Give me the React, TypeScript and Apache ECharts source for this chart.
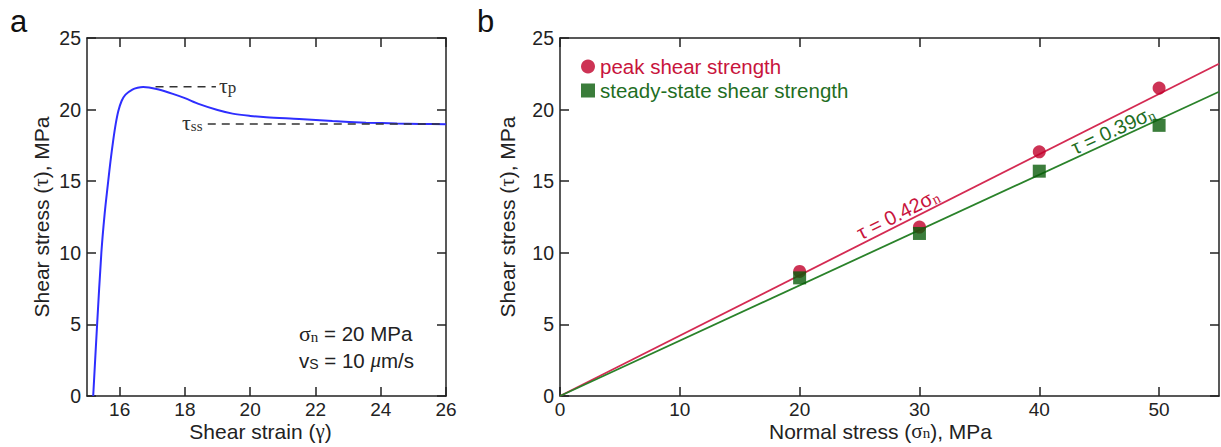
import React, { useEffect, useRef } from 'react';
import * as echarts from 'echarts';

// ---------- Panel a: shear stress vs shear strain ----------
const strainA = [15.19, 15.31, 15.44, 15.54, 15.65, 15.72, 15.8, 15.88, 15.96, 16.06, 16.18, 16.39, 16.55, 16.72, 16.9, 17.2, 17.63, 18.0, 18.44, 19.0, 19.46, 20.0, 20.49, 21.5, 22.52, 23.55, 24.5, 25.2, 26.0];
const stressA = [0, 5.0, 10.0, 12.7, 15.0, 16.4, 17.8, 19.0, 19.9, 20.6, 21.05, 21.4, 21.52, 21.57, 21.54, 21.4, 21.1, 20.8, 20.38, 19.97, 19.72, 19.56, 19.46, 19.34, 19.2, 19.09, 19.03, 19.0, 18.98];
const tauPeakDash = [[17.1, 21.6], [18.95, 21.6]];
const tauSSDash = [[18.7, 19.0], [26, 19.0]];
const xTicksA = [16, 18, 20, 22, 24, 26];
const yTicks = [0, 5, 10, 15, 20, 25];

// ---------- Panel b: shear strength vs normal stress ----------
const normalStress = [20, 30, 40, 50];
const peakStrength = [8.7, 11.8, 17.05, 21.5];
const steadyStrength = [8.25, 11.35, 15.7, 18.9];
const peakFit = [[0, 0], [55, 23.2]];
const steadyFit = [[0, 0], [55, 21.25]];
const xTicksB = [0, 10, 20, 30, 40, 50];

const AX = '#222';
const FONT = 'Liberation Sans, Arial, sans-serif';
const SERIF = 'Liberation Serif, Times New Roman, serif';
const RED = '#c8143c';
const REDLINE = '#d42a52';
const GREEN = '#1f6e1f';
const GREENLINE = '#2a822a';

function xAxisDef(gridIndex: number, min: number, max: number, ticks: number[], position: string, labels: boolean, extra: any = {}) {
  return {
    type: 'value', gridIndex, min, max, position,
    axisLine: { show: true, onZero: false, lineStyle: { color: AX, width: 1.5 } },
    axisTick: { show: true, inside: true, length: 9, customValues: ticks, lineStyle: { color: AX, width: 1.5 } },
    axisLabel: { show: labels, customValues: ticks, color: AX, fontSize: 19, lineHeight: 14, fontFamily: FONT, margin: 6.5, showMinLabel: true, showMaxLabel: true },
    splitLine: { show: false },
    ...extra,
  };
}
function yAxisDef(gridIndex: number, position: string, labels: boolean, extra: any = {}) {
  return {
    type: 'value', gridIndex, min: 0, max: 25, position,
    axisLine: { show: true, onZero: false, lineStyle: { color: AX, width: 1.5 } },
    axisTick: { show: true, inside: true, length: 9, customValues: yTicks, lineStyle: { color: AX, width: 1.5 } },
    axisLabel: { show: labels, customValues: yTicks, color: AX, fontSize: 19.5, fontFamily: FONT, margin: 6, showMinLabel: true, showMaxLabel: true },
    splitLine: { show: false },
    ...extra,
  };
}

const subRich = {
  a: { fontSize: 21, fontFamily: FONT, color: AX, lineHeight: 18 },
  s: { fontSize: 15, fontFamily: SERIF, color: AX, lineHeight: 9, verticalAlign: 'bottom' },
  g: { fontSize: 21, fontFamily: SERIF, color: AX, lineHeight: 18 },
};

export default function App() {
  const ref = useRef<HTMLDivElement>(null);
  useEffect(() => {
    if (!ref.current) return;
    const chart = echarts.init(ref.current, undefined, { renderer: 'svg' });
    const deg = Math.PI / 180;
    const option: any = {
      animation: false,
      backgroundColor: '#fff',
      grid: [
        { left: 87, top: 38, width: 359, height: 358, outerBoundsMode: 'none', containLabel: false },
        { left: 560, top: 38, width: 659, height: 358, outerBoundsMode: 'none', containLabel: false },
      ],
      xAxis: [
        xAxisDef(0, 15, 26, xTicksA, 'bottom', true, {
          name: '{a|Shear strain (}{g|γ}{a|)}', nameLocation: 'middle', nameGap: 26, nameMoveOverlap: false,
          nameTextStyle: { rich: subRich, padding: [0, 12, 0, 0] },
        }),
        xAxisDef(0, 15, 26, xTicksA, 'top', false),
        xAxisDef(1, 0, 55, xTicksB, 'bottom', true, {
          name: '{a|Normal stress (}{g|σ}{s|n}{a|), MPa}', nameLocation: 'middle', nameGap: 26, nameMoveOverlap: false,
          nameTextStyle: { rich: subRich, padding: [0, 18, 0, 0] },
        }),
        xAxisDef(1, 0, 55, xTicksB, 'top', false),
      ],
      yAxis: [
        yAxisDef(0, 'left', true, {
          name: '{a|Shear stress (}{g|τ}{a|), MPa}', nameLocation: 'middle', nameGap: 37, nameMoveOverlap: false,
          nameTextStyle: { rich: subRich },
        }),
        yAxisDef(0, 'right', false),
        yAxisDef(1, 'left', true, {
          name: '{a|Shear stress (}{g|τ}{a|), MPa}', nameLocation: 'middle', nameGap: 44, nameMoveOverlap: false,
          nameTextStyle: { rich: subRich },
        }),
        yAxisDef(1, 'right', false),
      ],
      legend: {
        left: 576, top: 51, orient: 'vertical', itemWidth: 14, itemHeight: 14, itemGap: 3,
        selectedMode: false,
        textStyle: { fontSize: 20.5, fontFamily: FONT },
        data: [
          { name: 'peak shear strength', textStyle: { color: RED } },
          { name: 'steady-state shear strength', textStyle: { color: GREEN } },
        ],
      },
      series: [
        {
          name: 'curve', type: 'line', xAxisIndex: 0, yAxisIndex: 0,
          data: strainA.map((x, i) => [x, stressA[i]]),
          showSymbol: false, symbol: 'none', smooth: 0.3,
          lineStyle: { color: '#2e2eff', width: 2 },
        },
        {
          name: 'tau_p', type: 'line', xAxisIndex: 0, yAxisIndex: 0, data: tauPeakDash, symbol: 'none',
          lineStyle: { color: '#333', width: 1.5, type: [8, 6] },
        },
        {
          name: 'tau_ss', type: 'line', xAxisIndex: 0, yAxisIndex: 0, data: tauSSDash, symbol: 'none',
          lineStyle: { color: '#333', width: 1.5, type: [8, 6] },
        },
        {
          name: 'peak fit', type: 'line', xAxisIndex: 2, yAxisIndex: 2, data: peakFit, symbol: 'none',
          lineStyle: { color: REDLINE, width: 1.8 },
        },
        {
          name: 'steady fit', type: 'line', xAxisIndex: 2, yAxisIndex: 2, data: steadyFit, symbol: 'none',
          lineStyle: { color: GREENLINE, width: 1.8 },
        },
        {
          name: 'peak shear strength', type: 'scatter', xAxisIndex: 2, yAxisIndex: 2, z: 5,
          data: normalStress.map((x, i) => [x, peakStrength[i]]),
          symbol: 'circle', symbolSize: 13, itemStyle: { color: '#c0002a' },
        },
        {
          name: 'steady-state shear strength', type: 'scatter', xAxisIndex: 2, yAxisIndex: 2, z: 5,
          data: normalStress.map((x, i) => [x, steadyStrength[i]]),
          symbol: 'rect', symbolSize: 13, itemStyle: { color: '#0a5c0a' },
        },
      ],
      graphic: [
        { type: 'text', x: 10, y: 6, style: { text: 'a', fontSize: 31, fontFamily: FONT, fill: '#111' } },
        { type: 'text', x: 477, y: 6, style: { text: 'b', fontSize: 31, fontFamily: FONT, fill: '#111' } },
        {
          type: 'text', x: 219, y: 85,
          style: {
            text: '{t|τ}{s|p}', verticalAlign: 'middle',
            rich: {
              t: { fontSize: 22, fontFamily: SERIF, fill: '#333', lineHeight: 22 },
              s: { fontSize: 17, fontFamily: SERIF, fill: '#333', lineHeight: 10, verticalAlign: 'bottom' },
            },
          },
        },
        {
          type: 'text', x: 182, y: 122,
          style: {
            text: '{t|τ}{s|ss}', verticalAlign: 'middle',
            rich: {
              t: { fontSize: 22, fontFamily: SERIF, fill: '#333', lineHeight: 22 },
              s: { fontSize: 15, fontFamily: SERIF, fill: '#333', lineHeight: 10, verticalAlign: 'bottom' },
            },
          },
        },
        {
          type: 'text', x: 299, y: 333,
          style: {
            text: '{g|σ}{s|n}{t| = 20 MPa}', verticalAlign: 'middle',
            rich: {
              g: { fontSize: 22, fontFamily: SERIF, fill: '#222', lineHeight: 22 },
              s: { fontSize: 15, fontFamily: SERIF, fill: '#222', lineHeight: 10, verticalAlign: 'bottom' },
              t: { fontSize: 20.5, fontFamily: FONT, fill: '#222', lineHeight: 22 },
            },
          },
        },
        {
          type: 'text', x: 299, y: 360,
          style: {
            text: '{t|v}{s|S}{t| = 10 }{i|μ}{t|m/s}', verticalAlign: 'middle',
            rich: {
              t: { fontSize: 20.5, fontFamily: FONT, fill: '#222', lineHeight: 22 },
              i: { fontSize: 21, fontFamily: SERIF, fontStyle: 'italic', fill: '#222', lineHeight: 22 },
              s: { fontSize: 14, fontFamily: FONT, fill: '#222', lineHeight: 10, verticalAlign: 'bottom' },
            },
          },
        },
        {
          type: 'text', x: 898, y: 214, rotation: 26.7 * deg,
          style: {
            text: '{t|τ = 0.42σ}{s|n}', align: 'center', verticalAlign: 'middle',
            rich: {
              t: { fontSize: 20, fontFamily: FONT, fill: RED, lineHeight: 22 },
              s: { fontSize: 15, fontFamily: SERIF, fill: RED, lineHeight: 9, verticalAlign: 'bottom' },
            },
          },
        },
        {
          type: 'text', x: 1113, y: 130, rotation: 24.8 * deg,
          style: {
            text: '{t|τ = 0.39σ}{s|n}', align: 'center', verticalAlign: 'middle',
            rich: {
              t: { fontSize: 20, fontFamily: FONT, fill: GREEN, lineHeight: 22 },
              s: { fontSize: 15, fontFamily: SERIF, fill: GREEN, lineHeight: 9, verticalAlign: 'bottom' },
            },
          },
        },
      ],
    };
    chart.setOption(option);
    return () => chart.dispose();
  }, []);
  return <div ref={ref} style={{ position: 'absolute', left: 0, top: 0, width: 1221, height: 447 }} />;
}
